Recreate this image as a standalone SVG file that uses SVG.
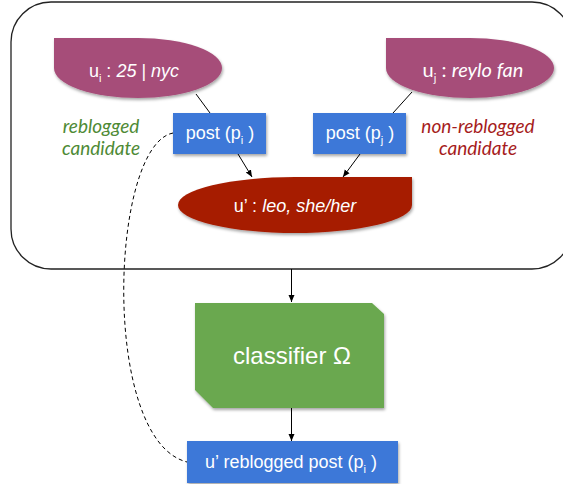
<svg xmlns="http://www.w3.org/2000/svg" width="563" height="484" viewBox="0 0 563 484">
<style>
.ar{font-family:"Liberation Sans",Arial,sans-serif;fill:#fff;font-size:18px;text-anchor:middle}
.cal{font-family:Lato,"Liberation Sans",sans-serif;font-size:19px;text-anchor:middle}
.it{font-style:italic}
.sub{font-size:11px}
.conn{stroke:#000;stroke-width:1;fill:none}
.post{fill:#3c78d8}
.blob{fill:#a64d79}
</style>
<defs>
<filter id="sh" x="-10%" y="-10%" width="130%" height="140%">
<feDropShadow dx="1" dy="2" stdDeviation="1.5" flood-color="#000" flood-opacity="0.35"/>
</filter>
<marker id="arr" markerWidth="8" markerHeight="8" refX="7" refY="4" orient="auto" markerUnits="userSpaceOnUse">
<path d="M0,1 L7,4 L0,7 Z" fill="#000"/>
</marker>
</defs>
<rect id="frame" x="11" y="2" width="561" height="267" rx="40" ry="40" fill="none" stroke="#222" stroke-width="1.3"/>
<g id="connectors">
<line class="conn" x1="196" y1="94" x2="210" y2="113"/>
<line class="conn" x1="412" y1="92" x2="393" y2="113"/>
<line class="conn" x1="238" y1="154" x2="252" y2="177" marker-end="url(#arr)"/>
<line class="conn" x1="360" y1="154" x2="343" y2="177" marker-end="url(#arr)"/>
<line class="conn" x1="291.5" y1="269" x2="291.5" y2="302" marker-end="url(#arr)"/>
<line class="conn" x1="291.5" y1="408" x2="291.5" y2="441" marker-end="url(#arr)"/>
<path class="conn" d="M173,133 C110,145 100,440 187,462" stroke-dasharray="4,3"/>
</g>
<g id="ui">
<path class="blob" filter="url(#sh)" d="M54,38 H138 A84,30 0 0 1 138,98 A84,30 0 0 1 54,68 Z"/>
<text class="ar" x="134" y="77">u<tspan class="sub" dy="5">i</tspan><tspan dy="-5"> : </tspan><tspan class="it">25</tspan> | <tspan class="it">nyc</tspan></text>
</g>
<g id="uj">
<path class="blob" filter="url(#sh)" d="M386,38 H470 A84,30 0 0 1 470,98 A84,30 0 0 1 386,68 Z"/>
<text class="cal" fill="#fff" x="473" y="77" style="font-size:20px">u<tspan class="sub" dy="5">j</tspan><tspan dy="-5"> : </tspan><tspan class="it">reylo fan</tspan></text>
</g>
<g id="reblogged-label">
<text class="cal it" fill="#4e8a35" x="101" y="133">reblogged</text>
<text class="cal it" fill="#4e8a35" x="101" y="155">candidate</text>
</g>
<g id="nonreblogged-label">
<text class="cal it" fill="#a61c1c" x="478" y="133">non-reblogged</text>
<text class="cal it" fill="#a61c1c" x="478" y="155">candidate</text>
</g>
<g id="post-i">
<rect class="post" filter="url(#sh)" x="173" y="113" width="93" height="41"/>
<text class="ar" x="220" y="139">post (p<tspan class="sub" dy="5">i</tspan><tspan dy="-5">  )</tspan></text>
</g>
<g id="post-j">
<rect class="post" filter="url(#sh)" x="313" y="113" width="93" height="41"/>
<text class="ar" x="360" y="139">post (p<tspan class="sub" dy="5">j</tspan><tspan dy="-5">  )</tspan></text>
</g>
<g id="uprime">
<path fill="#a61c00" filter="url(#sh)" d="M412,177 H295 A117,28 0 0 0 178,205 A117,28 0 0 0 295,233 A117,28 0 0 0 412,205 Z"/>
<text class="ar" x="295" y="212">u’ : <tspan class="it">leo, she/her</tspan></text>
</g>
<g id="classifier">
<path fill="#6aa84f" filter="url(#sh)" d="M195,303 H372 L384,314 V408 H213 L195,390 Z"/>
<text class="ar" x="292" y="364" style="font-size:24px">classifier Ω</text>
</g>
<g id="reblogged-post">
<rect class="post" filter="url(#sh)" x="187" y="441" width="211" height="42"/>
<text class="ar" x="291" y="468">u’ reblogged post (p<tspan class="sub" dy="5">i</tspan><tspan dy="-5">  )</tspan></text>
</g>
</svg>
